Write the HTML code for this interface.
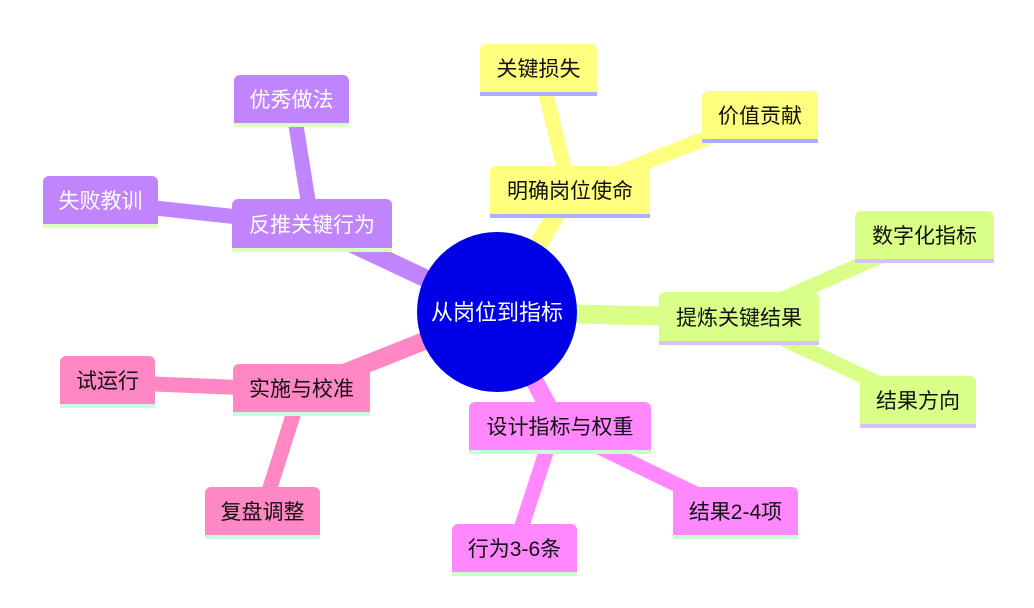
<!DOCTYPE html>
<html><head><meta charset="utf-8"><style>
body{margin:0;width:1034px;height:608px;background:#fff;overflow:hidden;position:relative;font-family:"Liberation Sans","Noto Sans CJK SC",sans-serif}
.n{position:absolute;box-sizing:border-box;border-radius:6px 6px 0 0;display:flex;align-items:center;justify-content:center;font-size:21px;color:#111;border-bottom:4px solid #aab0ff}
svg{position:absolute;left:0;top:0}
.y{background:#ffff7f;border-bottom-color:#aab0ff}
.g{background:#d9ff88;border-bottom-color:#d4c2ff}
.m{background:#ff88ff;border-bottom-color:#c8ffd0}
.p{background:#c084fc;border-bottom-color:#dcffc0;color:#fff}
.k{background:#ff88c4;border-bottom-color:#c0ffe0}
</style></head><body>
<svg width="1034" height="608" stroke-linecap="butt">
<g stroke="#ffff7f"><line x1="497" y1="312" x2="570" y2="192" stroke-width="18"/><line x1="570" y1="192" x2="540" y2="70" stroke-width="15"/><line x1="570" y1="192" x2="760" y2="117" stroke-width="15"/></g>
<g stroke="#d9ff88"><line x1="497" y1="312" x2="739" y2="318" stroke-width="19"/><line x1="739" y1="318" x2="924" y2="237" stroke-width="15"/><line x1="739" y1="318" x2="918" y2="402" stroke-width="15"/></g>
<g stroke="#ff88ff"><line x1="497" y1="312" x2="560" y2="428" stroke-width="18"/><line x1="560" y1="428" x2="735" y2="513" stroke-width="15"/><line x1="550" y1="440" x2="514" y2="550" stroke-width="15"/></g>
<g stroke="#c084fc"><line x1="497" y1="312" x2="312" y2="225" stroke-width="18"/><line x1="312" y1="225" x2="292" y2="101" stroke-width="15"/><line x1="312" y1="225" x2="100" y2="202" stroke-width="15"/></g>
<g stroke="#ff88c4"><line x1="497" y1="312" x2="301" y2="390" stroke-width="18"/><line x1="301" y1="390" x2="107" y2="382" stroke-width="15"/><line x1="301" y1="390" x2="262" y2="513" stroke-width="15"/></g>
<circle cx="497" cy="312" r="80" fill="#0000e6"/>
<text x="497" y="320" font-size="22" fill="#fff" text-anchor="middle" font-family="Liberation Sans,Noto Sans CJK SC,sans-serif">从岗位到指标</text>
</svg>
<div class="n y" style="left:480px;top:44px;width:117px;height:52px">关键损失</div>
<div class="n y" style="left:702px;top:91px;width:116px;height:52px">价值贡献</div>
<div class="n y" style="left:490px;top:166px;width:160px;height:52px">明确岗位使命</div>
<div class="n g" style="left:659px;top:292px;width:160px;height:53px">提炼关键结果</div>
<div class="n g" style="left:855px;top:211px;width:139px;height:52px">数字化指标</div>
<div class="n g" style="left:860px;top:376px;width:116px;height:52px">结果方向</div>
<div class="n m" style="left:469px;top:402px;width:182px;height:52px">设计指标与权重</div>
<div class="n m" style="left:673px;top:487px;width:125px;height:52px">结果2-4项</div>
<div class="n m" style="left:452px;top:524px;width:125px;height:52px">行为3-6条</div>
<div class="n p" style="left:232px;top:199px;width:160px;height:53px">反推关键行为</div>
<div class="n p" style="left:234px;top:75px;width:115px;height:52px">优秀做法</div>
<div class="n p" style="left:43px;top:176px;width:115px;height:52px">失败教训</div>
<div class="n k" style="left:233px;top:364px;width:137px;height:52px">实施与校准</div>
<div class="n k" style="left:60px;top:356px;width:95px;height:52px">试运行</div>
<div class="n k" style="left:205px;top:487px;width:115px;height:52px">复盘调整</div>
</body></html>
